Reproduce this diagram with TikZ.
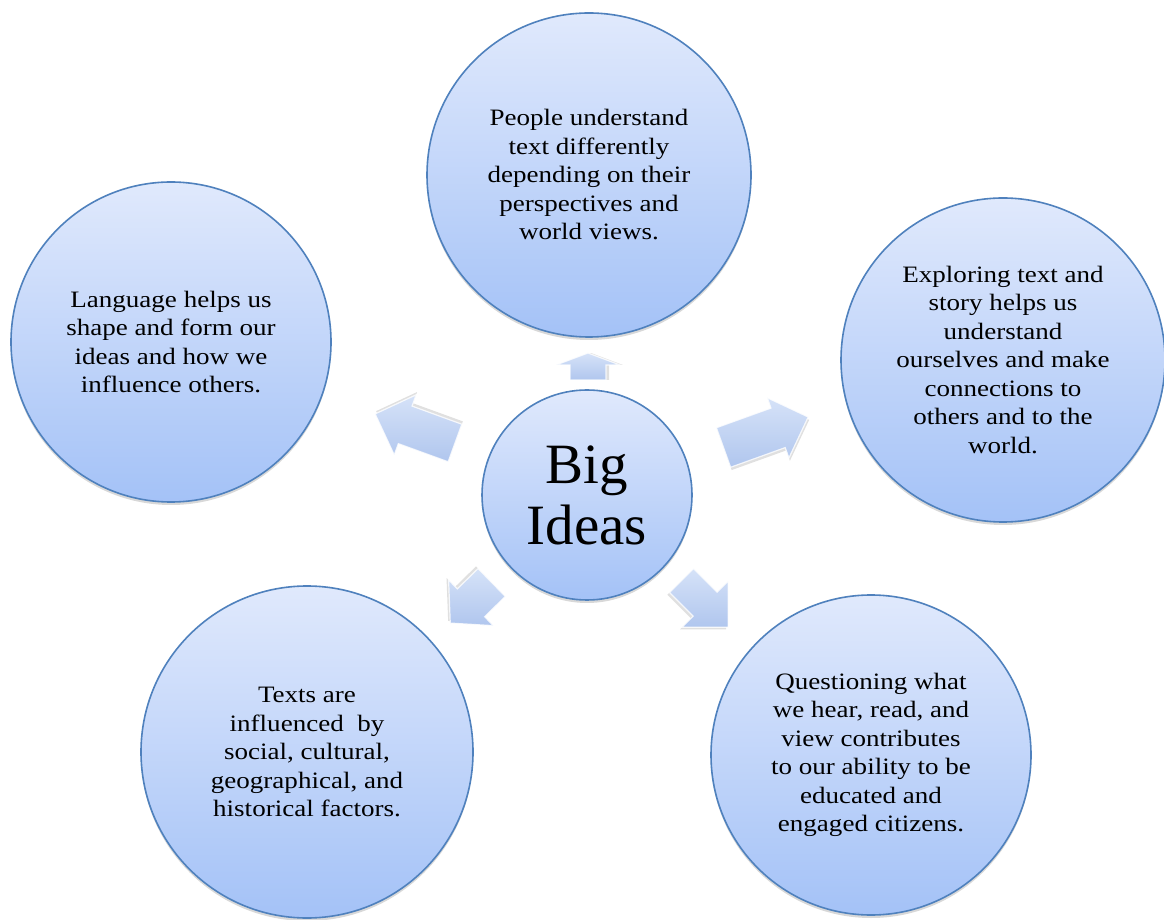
\documentclass[tikz,border=0pt]{standalone}
\usepackage{fontspec}
\setmainfont{Liberation Serif}
\newfontfamily\bodyfont{Liberation Serif}[FakeStretch=1.15]
\usetikzlibrary{shadows}
\definecolor{circtop}{RGB}{224,233,252}
\definecolor{circbot}{RGB}{164,194,247}
\definecolor{circline}{RGB}{79,129,189}
\definecolor{arrowfill}{RGB}{196,214,245}
\definecolor{arrowdark}{RGB}{176,198,238}
\tikzset{
  idea/.style={circle, draw=circline, line width=1.6pt, top color=circtop, bottom color=circbot,
    align=center, inner sep=0pt, font=\bodyfont\fontsize{23.5}{28.5}\selectfont,
    drop shadow={shadow xshift=0pt, shadow yshift=-3pt, opacity=0.25, fill=black!60}},
  hub/.style={idea, font=\fontsize{57}{61}\selectfont},
  blockarrow/.style={top color=arrowfill!70!white, bottom color=arrowdark, draw=white, draw opacity=0.8, line width=1.2pt, line join=miter},
  arrowshadow/.style={fill=black, fill opacity=0.12}
}
% #1 tail coordinate, #2 angle, #3 length, #4 shaft half width, #5 head half width, #6 head length
\newcommand\bigarrow[6]{%
  \begin{scope}[shift={#1}, rotate=#2]
    \fill[arrowshadow, yshift=-3pt] (0,-#4) -- ({#3-#6},-#4) -- ({#3-#6},-#5) -- (#3,0) -- ({#3-#6},#5) -- ({#3-#6},#4) -- (0,#4) -- cycle;
    \path[blockarrow] (0,-#4) -- ({#3-#6},-#4) -- ({#3-#6},-#5) -- (#3,0) -- ({#3-#6},#5) -- ({#3-#6},#4) -- (0,#4) -- cycle;
  \end{scope}}
\begin{document}
\begin{tikzpicture}[x=1pt, y=1pt]
\useasboundingbox (0,0) rectangle (1164,919);
\fill[white] (0,0) rectangle (1164,919);

\node[idea, minimum size=324pt] (top) at (589,744)
  {People understand\\text differently\\depending on their\\perspectives and\\world views.};
\node[idea, minimum size=320pt] (left) at (171,577)
  {Language helps us\\shape and form our\\ideas and how we\\influence others.};
\node[idea, minimum size=324pt] (right) at (1003,559)
  {Exploring text and\\story helps us\\understand\\ourselves and make\\connections to\\others and to the\\world.};
\node[idea, minimum size=332pt] (botleft) at (307,167)
  {Texts are\\influenced\ \ by\\social, cultural,\\geographical, and\\historical factors.};
\node[idea, minimum size=320pt] (botright) at (871,164)
  {Questioning what\\we hear, read, and\\view contributes\\to our ability to be\\educated and\\engaged citizens.};
\node[hub, minimum size=210pt] (hub) at (587,424) {Big\\Ideas};

\coordinate (aup) at (588,539);
\coordinate (aul) at (455,476);
\coordinate (ar) at (723.5,471.5);
\coordinate (all) at (491.7,336.5);
\coordinate (alr) at (681.5,338.5);
\bigarrow{(aup)}{90}{27}{18}{32}{12}
\bigarrow{(aul)}{160}{85}{20}{32}{32}
\bigarrow{(ar)}{19.8}{90}{21}{32}{32}
\bigarrow{(all)}{224.4}{58}{19.5}{32}{29}
\bigarrow{(alr)}{-45}{66}{17}{32.5}{32.5}
\end{tikzpicture}
\end{document}
